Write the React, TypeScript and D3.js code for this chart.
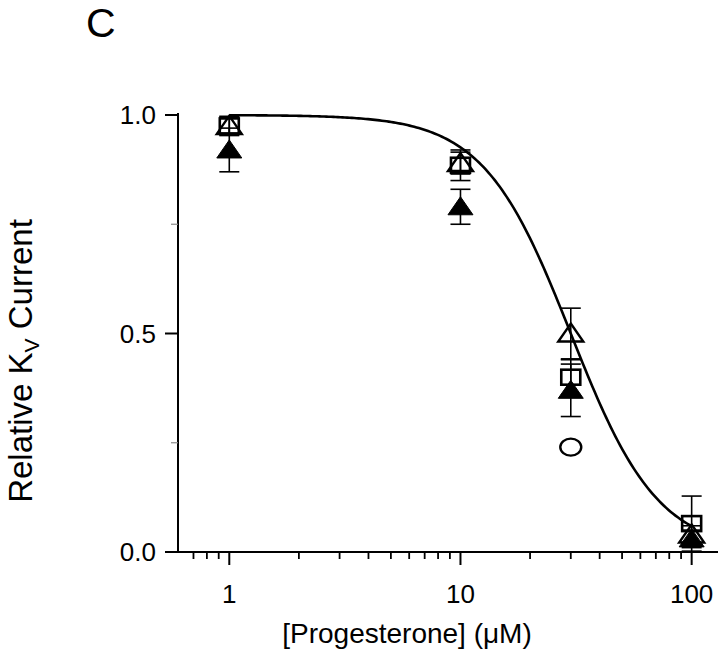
import React from "react";
import * as d3 from "d3";

// ---- data ----
const concentrations = [1, 10, 30, 100];
const squareMean = [0.975, 0.885, 0.4, 0.065];
const squareErr = [0.022, 0.035, 0.04, 0.063];
const filledTriMean = [0.92, 0.79, 0.37, 0.03];
const filledTriErr = [0.05, 0.04, 0.06, 0.02];
const openTriMean = [0.975, 0.89, 0.5, 0.04];
const openTriErr = [0.02, 0.025, 0.058, 0.02];
const circleConc = [30];
const circleMean = [0.24];

// Hill fit parameters of the drawn curve
const fitIC50 = 30;
const fitHill = 2.3;

const xMajorTicks = [1, 10, 100];
const xMinorTicks = [0.7, 0.8, 0.9, 2, 3, 4, 5, 6, 7, 8, 9, 20, 30, 40, 50, 60, 70, 80, 90];
const yMajorTicks = [0, 0.5, 1.0];
const yMinorTicks = [0.25, 0.75];

const panelLabel = "C";
const xTitle = "[Progesterone] (\u03BCM)";

const FONT = "'Liberation Sans', Arial, Helvetica, sans-serif";

export default function App() {
  const x = d3.scaleLog().domain([0.6, 130]).range([178, 718]);
  const y = d3.scaleLinear().domain([0, 1]).range([552, 115]);

  const hill = (c: number) => 1 / (1 + Math.pow(c / fitIC50, fitHill));
  const curveXs = d3.range(0, 2.0001, 0.01).map((e) => Math.pow(10, e));
  const line = d3
    .line<number>()
    .x((c) => x(c))
    .y((c) => y(hill(c)));

  const capHalf = 10;
  const errBars = (means: number[], errs: number[], key: string) =>
    concentrations.map((c, i) => {
      const cx = x(c);
      const top = y(means[i] + errs[i]);
      const bot = y(means[i] - errs[i]);
      return (
        <g key={key + i} stroke="#000" strokeWidth={1.6}>
          <line x1={cx} x2={cx} y1={top} y2={bot} />
          <line x1={cx - capHalf} x2={cx + capHalf} y1={top} y2={top} />
          <line x1={cx - capHalf} x2={cx + capHalf} y1={bot} y2={bot} />
        </g>
      );
    });

  const tri = (cx: number, cy: number) =>
    `M${cx},${cy - 10} L${cx + 12.5},${cy + 8} L${cx - 12.5},${cy + 8} Z`;

  return (
    <svg width={720} height={655} style={{ position: "absolute", left: 0, top: 0, background: "#fff" }}>
      <rect x={0} y={0} width={720} height={655} fill="#fff" />
      {/* panel label */}
      <text x={86} y={37} fontFamily={FONT} fontSize={41} fill="#000">
        {panelLabel}
      </text>

      {/* axes */}
      <line x1={178} x2={178} y1={113} y2={553} stroke="#000" strokeWidth={2} />
      <line x1={178} x2={718} y1={552} y2={552} stroke="#000" strokeWidth={2} />

      {yMajorTicks.map((v) => (
        <g key={"ym" + v}>
          <line x1={165} x2={178} y1={y(v)} y2={y(v)} stroke="#000" strokeWidth={2} />
          <text
            x={156}
            y={y(v)}
            textAnchor="end"
            dominantBaseline="central"
            fontFamily={FONT}
            fontSize={26}
            fill="#000"
          >
            {v.toFixed(1)}
          </text>
        </g>
      ))}
      {yMinorTicks.map((v) => (
        <line key={"yn" + v} x1={171} x2={178} y1={y(v)} y2={y(v)} stroke="#888" strokeWidth={1.2} />
      ))}

      {xMajorTicks.map((v) => (
        <g key={"xm" + v}>
          <line x1={x(v)} x2={x(v)} y1={552} y2={565} stroke="#000" strokeWidth={2} />
          <text
            x={x(v)}
            y={603}
            textAnchor="middle"
            fontFamily={FONT}
            fontSize={26}
            fill="#000"
          >
            {String(v)}
          </text>
        </g>
      ))}
      {xMinorTicks.map((v) => (
        <line key={"xn" + v} x1={x(v)} x2={x(v)} y1={552} y2={559} stroke="#000" strokeWidth={1.8} />
      ))}

      {/* axis titles */}
      <text x={407} y={643} textAnchor="middle" fontFamily={FONT} fontSize={28} fill="#000">
        {xTitle}
      </text>
      <text
        transform="translate(32,361) rotate(-90)"
        textAnchor="middle"
        fontFamily={FONT}
        fontSize={33}
        fill="#000"
      >
        Relative K<tspan fontSize={21} dy={7}>V</tspan>
        <tspan dy={-7}> Current</tspan>
      </text>

      {/* fit curve */}
      <path d={line(curveXs) || ""} fill="none" stroke="#000" strokeWidth={2.6} />

      {/* error bars */}
      {errBars(openTriMean, openTriErr, "ot")}
      {errBars(squareMean, squareErr, "sq")}
      {errBars(filledTriMean, filledTriErr, "ft")}

      {/* markers */}
      {concentrations.map((c, i) => (
        <path key={"otm" + i} d={tri(x(c), y(openTriMean[i]))} fill="none" stroke="#000" strokeWidth={2.4} />
      ))}
      {circleConc.map((c, i) => (
        <ellipse key={"ci" + i} cx={x(c)} cy={y(circleMean[i])} rx={10.5} ry={8.5} fill="none" stroke="#000" strokeWidth={2.4} />
      ))}
      {concentrations.map((c, i) => (
        <rect
          key={"sqm" + i}
          x={x(c) - 9.5}
          y={y(squareMean[i]) - 7.5}
          width={19}
          height={15}
          fill="none"
          stroke="#000"
          strokeWidth={2.6}
        />
      ))}
      {concentrations.map((c, i) => (
        <path key={"ftm" + i} d={tri(x(c), y(filledTriMean[i]))} fill="#000" stroke="#000" strokeWidth={1} />
      ))}
    </svg>
  );
}
